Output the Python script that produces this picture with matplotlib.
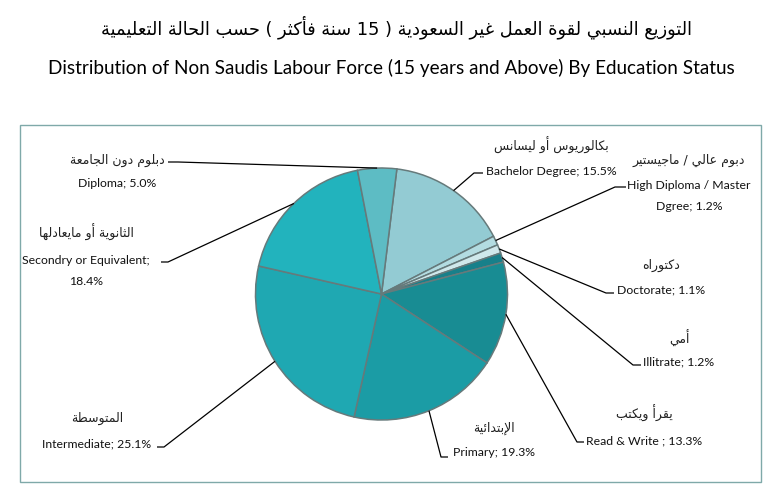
import matplotlib.pyplot as plt
import numpy as np

# ------------------------------------------------------------
# data (clockwise from the top)
# ------------------------------------------------------------
CATEGORIES_EN = [
    "Bachelor Degree; 15.5%",
    "High Diploma / Master\nDgree; 1.2%",
    "Doctorate; 1.1%",
    "Illitrate; 1.2%",
    "Read & Write ; 13.3%",
    "Primary; 19.3%",
    "Intermediate; 25.1%",
    "Secondry or Equivalent;\n18.4%",
    "Diploma; 5.0%",
]
CATEGORIES_AR = [
    "بكالوريوس أو ليسانس",
    "دبوم عالي / ماجيستير",
    "دكتوراه",
    "أمي",
    "يقرأ ويكتب",
    "الإبتدائية",
    "المتوسطة",
    "الثانوية أو مايعادلها",
    "دبلوم دون الجامعة",
]
SHARES = [15.5, 1.2, 1.1, 1.2, 13.3, 19.3, 25.1, 18.4, 5.0]
COLORS = ["#93cbd3", "#b3dce1", "#cfe8eb", "#17808a", "#188c93",
          "#1b9ca5", "#1fa8b2", "#22b3bd", "#5dbcc4"]

TITLE_AR = "التوزيع النسبي لقوة العمل غير السعودية ( 15 سنة فأكثر ) حسب الحالة التعليمية"
TITLE_EN = "Distribution of Non Saudis Labour Force (15 years and Above) By Education Status"

# ------------------------------------------------------------
# layout (pixels, origin top-left)
# ------------------------------------------------------------
W, H = 776, 491
CENTER = (381.5, 294)
RADIUS = 126
START = 83  # degrees, first slice starts a little right of 12 o'clock

# label centre x, arabic y, english y, leader anchor, leader elbow
LABELS = [
    (551, 145, 171, (483, 173), (474, 173)),
    (689, 160, 196, (626, 187), (615, 187)),
    (661, 265, 290, (614, 293), (606, 293)),
    (679, 338, 362, (641, 365), (633, 365)),
    (644, 413, 441, (584, 442), (577, 442)),
    (494, 428, 453, (448, 457), (441, 457)),
    (97, 418, 444, (157, 447), (164, 447)),
    (86, 232, 271, (161, 262), (168, 262)),
    (117, 160, 183, (168, 162), (178, 162)),
]

EN_FONT = ["Lato", "DejaVu Sans"]
AR_FONT = ["DejaVu Sans"]


# ------------------------------------------------------------
# minimal arabic shaping (presentation forms) + rtl ordering
# ------------------------------------------------------------
FORMS = {
    "ء": (0xFE80, 1), "آ": (0xFE81, 2), "أ": (0xFE83, 2), "ؤ": (0xFE85, 2),
    "إ": (0xFE87, 2), "ئ": (0xFE89, 4), "ا": (0xFE8D, 2), "ب": (0xFE8F, 4),
    "ة": (0xFE93, 2), "ت": (0xFE95, 4), "ث": (0xFE99, 4), "ج": (0xFE9D, 4),
    "ح": (0xFEA1, 4), "خ": (0xFEA5, 4), "د": (0xFEA9, 2), "ذ": (0xFEAB, 2),
    "ر": (0xFEAD, 2), "ز": (0xFEAF, 2), "س": (0xFEB1, 4), "ش": (0xFEB5, 4),
    "ص": (0xFEB9, 4), "ض": (0xFEBD, 4), "ط": (0xFEC1, 4), "ظ": (0xFEC5, 4),
    "ع": (0xFEC9, 4), "غ": (0xFECD, 4), "ف": (0xFED1, 4), "ق": (0xFED5, 4),
    "ك": (0xFED9, 4), "ل": (0xFEDD, 4), "م": (0xFEE1, 4), "ن": (0xFEE5, 4),
    "ه": (0xFEE9, 4), "و": (0xFEED, 2), "ى": (0xFEEF, 2), "ي": (0xFEF1, 4),
}
LAM_ALEF = {"آ": 0xFEF5, "أ": 0xFEF7, "إ": 0xFEF9, "ا": 0xFEFB}


def shape_word(word):
    letters = []
    i = 0
    while i < len(word):
        ch = word[i]
        if ch == "ل" and i + 1 < len(word) and word[i + 1] in LAM_ALEF:
            letters.append((LAM_ALEF[word[i + 1]], 2))
            i += 2
            continue
        letters.append(FORMS.get(ch, (ord(ch), 0)))
        i += 1
    out = []
    for k, (start, n) in enumerate(letters):
        if n == 0:
            out.append(chr(start))
            continue
        prev_joins = k > 0 and letters[k - 1][1] == 4 and n >= 2
        next_joins = n == 4 and k + 1 < len(letters) and letters[k + 1][1] >= 2
        if prev_joins and next_joins:
            code = start + 3
        elif prev_joins:
            code = start + 1
        elif next_joins:
            code = start + 2
        else:
            code = start
        out.append(chr(code))
    return "".join(reversed(out))


def rtl(text):
    mirror = {"(": ")", ")": "("}
    tokens = []
    for tok in reversed(text.split(" ")):
        if any(c in FORMS for c in tok):
            tokens.append(shape_word(tok))
        else:
            tokens.append(mirror.get(tok, tok))
    return " ".join(tokens)


def px(x, y):
    """pixel position (top-left origin) -> data coords."""
    return x, H - y


def main():
    fig = plt.figure(figsize=(W / 100, H / 100), dpi=100)
    ax = fig.add_axes([0, 0, 1, 1])

    cx, cy = px(*CENTER)
    wedges, _ = ax.pie(
        SHARES,
        colors=COLORS,
        startangle=START,
        counterclock=False,
        center=(cx, cy),
        radius=RADIUS,
        wedgeprops={"edgecolor": "#667a7b", "linewidth": 1.1},
    )
    ax.set_xlim(0, W)
    ax.set_ylim(0, H)
    ax.axis("off")

    # outer frame of the chart area
    frame = plt.Rectangle(px(20, 482), 741, 357, fill=False,
                          edgecolor="#7fa9a9", linewidth=1.0)
    ax.add_patch(frame)

    for wedge, en, ar, (lx, ya, ye, anchor, elbow) in zip(
            wedges, CATEGORIES_EN, CATEGORIES_AR, LABELS):
        mid = np.deg2rad((wedge.theta1 + wedge.theta2) / 2)
        edge = (cx + RADIUS * np.cos(mid), cy + RADIUS * np.sin(mid))
        pa, pe = px(*anchor), px(*elbow)
        ax.plot([edge[0], pe[0], pa[0]], [edge[1], pe[1], pa[1]],
                color="black", linewidth=0.9, solid_capstyle="butt")
        ax.text(*px(lx, ya), rtl(ar), family=AR_FONT, fontsize=9,
                ha="center", va="center", color="#222222")
        ax.text(*px(lx, ye), en, family=EN_FONT, fontsize=8.8,
                ha="center", va="center", color="#111111", linespacing=2.1)

    # titles
    fig.text(397 / W, 1 - 27 / H, rtl(TITLE_AR), family=AR_FONT, fontsize=12.8,
             ha="center", va="center", color="black")
    fig.text(391 / W, 1 - 68 / H, TITLE_EN, family=EN_FONT, fontsize=13.6,
             ha="center", va="center", color="black")

    fig.savefig("out.png", dpi=100, facecolor="white")
    plt.close(fig)


if __name__ == "__main__":
    main()
